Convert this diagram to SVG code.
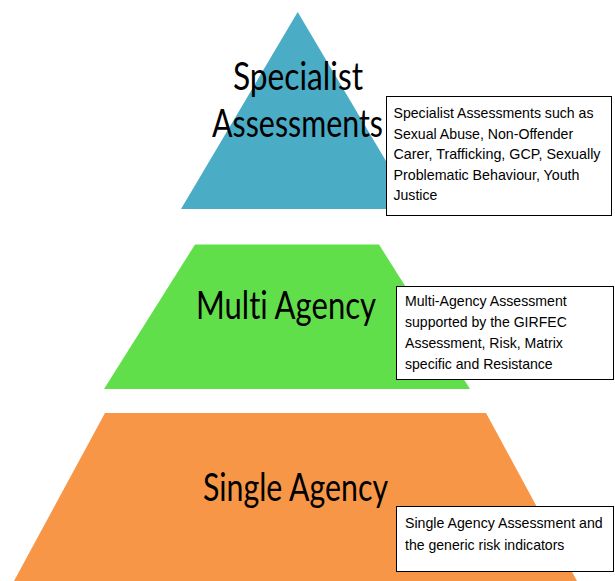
<svg xmlns="http://www.w3.org/2000/svg" width="615" height="581" viewBox="0 0 615 581">
<style>
.big{font-family:Lato,"Open Sans","Liberation Sans",sans-serif;font-size:38px;fill:#000;font-variant-ligatures:none;font-feature-settings:"liga" 0,"clig" 0}
.note{font-family:"Liberation Sans",Arial,sans-serif;font-size:15px;fill:#000}
.box{fill:#fff;stroke:#000;stroke-width:1}
</style>
<rect width="615" height="581" fill="#fff"/>
<g id="tier-specialist">
<polygon points="297.7,12 181,209 414.4,209" fill="#4BACC6"/>
<text class="big" x="233" y="90" textLength="130" lengthAdjust="spacingAndGlyphs">Specialist</text>
<text class="big" x="212" y="137" textLength="171" lengthAdjust="spacingAndGlyphs">Assessments</text>
</g>
<g id="tier-multi">
<polygon points="195,244.5 379,244.5 470,389 104,389" fill="#61DF4B"/>
<text class="big" x="196" y="319" textLength="180" lengthAdjust="spacingAndGlyphs">Multi Agency</text>
</g>
<g id="tier-single">
<polygon points="105,413 486,413 577,581 14,581" fill="#F79646"/>
<text class="big" x="203" y="501" textLength="185" lengthAdjust="spacingAndGlyphs">Single Agency</text>
</g>
<g id="note-specialist">
<rect class="box" x="386.5" y="96.5" width="225" height="119"/>
<text class="note" x="393.5" y="118" textLength="200" lengthAdjust="spacingAndGlyphs">Specialist Assessments such as</text>
<text class="note" x="393.5" y="138.5" textLength="179.7" lengthAdjust="spacingAndGlyphs">Sexual Abuse, Non-Offender</text>
<text class="note" x="393.5" y="159" textLength="207" lengthAdjust="spacingAndGlyphs">Carer, Trafficking, GCP, Sexually</text>
<text class="note" x="393.5" y="179.5" textLength="186" lengthAdjust="spacingAndGlyphs">Problematic Behaviour, Youth</text>
<text class="note" x="393.5" y="200" textLength="43.8" lengthAdjust="spacingAndGlyphs">Justice</text>
</g>
<g id="note-multi">
<rect class="box" x="396.5" y="286.5" width="217" height="93"/>
<text class="note" x="405" y="306" textLength="161.7" lengthAdjust="spacingAndGlyphs">Multi-Agency Assessment</text>
<text class="note" x="405" y="327" textLength="161.8" lengthAdjust="spacingAndGlyphs">supported by the GIRFEC</text>
<text class="note" x="405" y="348" textLength="157.8" lengthAdjust="spacingAndGlyphs">Assessment, Risk, Matrix</text>
<text class="note" x="405" y="369" textLength="147.7" lengthAdjust="spacingAndGlyphs">specific and Resistance</text>
</g>
<g id="note-single">
<rect class="box" x="396.5" y="506.5" width="217" height="65"/>
<text class="note" x="405" y="528" textLength="197.7" lengthAdjust="spacingAndGlyphs">Single Agency Assessment and</text>
<text class="note" x="405" y="550" textLength="159.4" lengthAdjust="spacingAndGlyphs">the generic risk indicators</text>
</g>
</svg>
